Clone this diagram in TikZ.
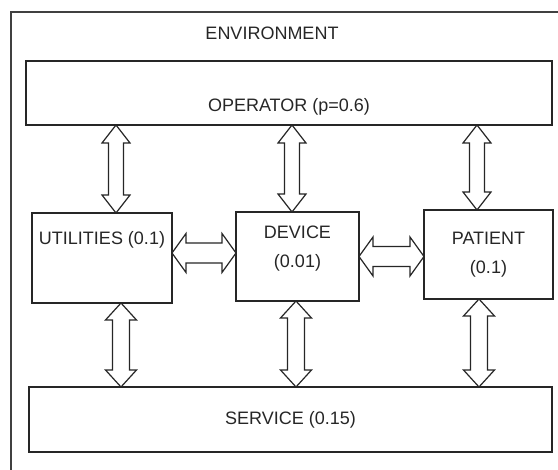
\documentclass[tikz,border=0pt]{standalone}
\usepackage{fontspec}
\setmainfont{Liberation Sans}
\usepackage{tikz}
\usetikzlibrary{calc,positioning}

\begin{document}
\begin{tikzpicture}[x=0.5pt, y=-0.5pt, font=\fontsize{9}{14.5}\selectfont]
        % Define styles
        \tikzset{
            block/.style={rectangle, draw=black!85, line width=0.9pt, inner sep=0pt, outer sep=0pt, anchor=north west, text=black!85, align=center},
            envbox/.style={block, draw=black!75, line width=1pt},
            caption/.style={text=black!85, align=center},
            biarrow/.style n args={3}{draw=black!85, line width=0.6pt, fill=white, line join=miter,
                to path={let \p1=(\tikztostart), \p2=(\tikztotarget),
                    \n1={atan2(\y2-\y1,\x2-\x1)}, \n2={veclen(\x2-\x1,\y2-\y1)} in
                    {[shift={(\p1)}, rotate=\n1]
                    (0pt,0pt) -- (#3,#2) -- (#3,#1) -- ({\n2*1pt-#3},#1) -- ({\n2*1pt-#3},#2)
                    -- ({\n2*1pt},0pt) -- ({\n2*1pt-#3},-#2) -- ({\n2*1pt-#3},-#1)
                    -- (#3,-#1) -- (#3,-#2) -- cycle}}},
            vtop/.style={biarrow={3.75pt}{7pt}{9pt}},
            vbot/.style={biarrow={4.25pt}{7.75pt}{8.5pt}},
            hmid/.style={biarrow={5pt}{9.75pt}{7pt}}
        }
        \useasboundingbox (0,0) rectangle (558,470);

        % Create nodes
        \node [envbox, minimum width=280pt, minimum height=234pt] (env) at (11,12) {};
        \node [caption] (envname) at (272,33) {ENVIRONMENT};
        \node [block, minimum width=263pt, minimum height=32pt,
               label={[caption, name=opname, yshift=-7pt]center:OPERATOR (p=0.6)}] (operator) at (26,61) {};
        \node [block, minimum width=70pt, minimum height=45pt,
               label={[caption, name=utilname, yshift=9pt]center:UTILITIES (0.1)}] (utilities) at (32,213) {};
        \node [block, minimum width=61.5pt, minimum height=44.5pt,
               label={[caption, name=devname, yshift=4pt]center:DEVICE\\(0.01)}] (device) at (236,212) {};
        \node [block, minimum width=64.5pt, minimum height=44.5pt] (patient) at (424,210) {PATIENT\\(0.1)};
        \node [block, minimum width=261.5pt, minimum height=32.5pt] (service) at (29,387) {SERVICE (0.15)};

        % Create arrows
        \draw [vtop] ([xshift=7pt]utilities.north) to ([xshift=7pt]utilities.north |- operator.south);
        \draw [vtop] ([xshift=-2.75pt]device.north) to ([xshift=-2.75pt]device.north |- operator.south);
        \draw [vtop] ([xshift=-5.75pt]patient.north) to ([xshift=-5.75pt]patient.north |- operator.south);
        \draw [vbot] ([xshift=9.5pt]utilities.south) to ([xshift=9.5pt]utilities.south |- service.north);
        \draw [vbot] ([xshift=-0.75pt]device.south) to ([xshift=-0.75pt]device.south |- service.north);
        \draw [vbot] ([xshift=-4.75pt]patient.south) to ([xshift=-4.75pt]patient.south |- service.north);
        \draw [hmid] ([yshift=2.5pt]utilities.east) to ([yshift=2.5pt]utilities.east -| device.west);
        \draw [hmid] (device.east) to (device.east -| patient.west);
\end{tikzpicture}
\end{document}
